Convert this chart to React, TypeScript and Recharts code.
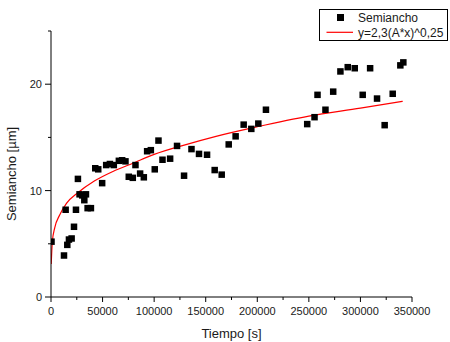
import { ComposedChart, Line, Scatter, XAxis, YAxis, Legend } from "recharts"

// measured points (time in s, half-width in µm)
const tiempo = [
  500, 12600, 14200, 15800, 17400, 20000, 22300, 24200, 26100, 27700, 30300, 32300, 33900, 35500, 38700,
  42900, 45800, 49600, 53500, 57100, 60900, 65800, 69000, 72200, 75400, 79300, 81900, 86400, 90000,
  93200, 96800, 100600, 104200, 108100, 115500, 122200, 129000, 136200, 143500, 151300, 158700, 165500,
  172300, 179000, 186800, 194200, 201000, 208400, 248400, 255500, 258400, 266100, 273600, 280600,
  287700, 294500, 302200, 309400, 316100, 323500, 331300, 338700, 341600,
]
const semiancho = [
  5.2, 3.9, 8.2, 4.9, 5.4, 5.5, 6.6, 8.2, 11.1, 9.65, 9.55, 9.1, 9.65, 8.35, 8.35,
  12.1, 12.0, 10.7, 12.4, 12.5, 12.4, 12.8, 12.85, 12.75, 11.3, 11.2, 12.4, 11.6, 11.25,
  13.7, 13.8, 12.0, 14.7, 12.9, 13.0, 14.2, 11.4, 13.9, 13.45, 13.37, 11.93, 11.5,
  14.34, 15.1, 16.2, 15.8, 16.3, 17.6, 16.25, 16.9, 19.0, 17.6, 19.3, 21.2,
  21.6, 21.5, 19.0, 21.5, 18.65, 16.15, 19.1, 21.77, 22.05,
]

// fit curve y=2,3(A*x)^0,25
const fitTiempo = [200, 1300, 3600, 8400, 15000, 26000, 42000, 60000, 80000, 100000, 130000, 160000, 200000, 250000, 300000, 341000]
const fitSemiancho = [3.1, 5.2, 6.5, 7.7, 8.8, 9.8, 10.9, 11.8, 12.6, 13.4, 14.3, 15.1, 16.0, 17.0, 17.75, 18.4]

const xTicks = [0, 25000, 50000, 75000, 100000, 125000, 150000, 175000, 200000, 225000, 250000, 275000, 300000, 325000, 350000]
const yTicks = [0, 5, 10, 15, 20, 25]

const puntos = tiempo.map((x, i) => ({ x, y: semiancho[i] }))
const ajuste = fitTiempo.map((x, i) => ({ x, y: fitSemiancho[i] }))

const font = "'Liberation Sans', Arial, sans-serif"
const ink = "#1a1a1a"

const XTick = ({ x, y, payload }: any) => {
  const major = payload.value % 50000 === 0
  return (
    <g>
      <line x1={x} x2={x} y1={y} y2={y + (major ? 5 : 3)} stroke="#000" />
      {major && (
        <text x={x} y={y + 18} textAnchor="middle" fontSize={11} fontFamily={font} fill={ink}>
          {payload.value}
        </text>
      )}
    </g>
  )
}

const YTick = ({ x, y, payload }: any) => {
  const major = payload.value % 10 === 0
  return (
    <g>
      <line x1={x} x2={x - (major ? 6 : 3)} y1={y} y2={y} stroke="#000" />
      {major && (
        <text x={x - 9} y={y + 4} textAnchor="end" fontSize={11} fontFamily={font} fill={ink}>
          {payload.value}
        </text>
      )}
    </g>
  )
}

const Square = ({ cx, cy }: any) => <rect x={cx - 3.25} y={cy - 3.25} width={6.5} height={6.5} fill="#000" />

const LegendBox = () => (
  <svg width={130} height={32} style={{ display: "block" }}>
    <rect x={0.5} y={0.5} width={128} height={31} fill="#fff" stroke="#000" />
    <rect x={18} y={5} width={7} height={7} fill="#000" />
    <text x={39} y={12.5} fontSize={12} fontFamily={font} fill={ink}>Semiancho</text>
    <line x1={7.5} x2={34} y1={23.3} y2={23.3} stroke="#ff0000" strokeWidth={1.2} />
    <text x={39} y={27.5} fontSize={12} fontFamily={font} fill={ink}>y=2,3(A*x)^0,25</text>
  </svg>
)

export default function App() {
  return (
    <div style={{ position: "absolute", left: 0, top: 0, width: 450, height: 342, background: "#fff" }}>
      <ComposedChart width={450} height={342} margin={{ top: 31, right: 38, left: 0, bottom: 0 }}>
        <XAxis
          dataKey="x"
          type="number"
          domain={[0, 350000]}
          ticks={xTicks}
          interval={0}
          allowDataOverflow
          height={45}
          tickSize={0}
          tickMargin={0}
          tickLine={false}
          axisLine={{ stroke: "#000" }}
          tick={<XTick />}
          label={{ value: "Tiempo [s]", position: "insideBottom", offset: 4, fontSize: 13, fontFamily: font, fill: ink }}
        />
        <YAxis
          type="number"
          domain={[0, 25]}
          ticks={yTicks}
          interval={0}
          width={51}
          tickSize={0}
          tickMargin={0}
          tickLine={false}
          axisLine={{ stroke: "#000" }}
          tick={<YTick />}
          label={{
            content: () => (
              <text x={16} y={174} transform="rotate(-90 16 174)" textAnchor="middle" fontSize={13} fontFamily={font} fill={ink}>
                Semiancho [µm]
              </text>
            ),
          }}
        />
        <Legend
          layout="vertical"
          align="center"
          verticalAlign="middle"
          wrapperStyle={{ top: 9, left: 319, width: 130, height: 32 }}
          content={<LegendBox />}
        />
        <Line data={ajuste} dataKey="y" type="monotone" stroke="#ff0000" strokeWidth={1.2} dot={false} isAnimationActive={false} />
        <Scatter data={puntos} dataKey="y" shape={<Square />} isAnimationActive={false} />
      </ComposedChart>
    </div>
  )
}
